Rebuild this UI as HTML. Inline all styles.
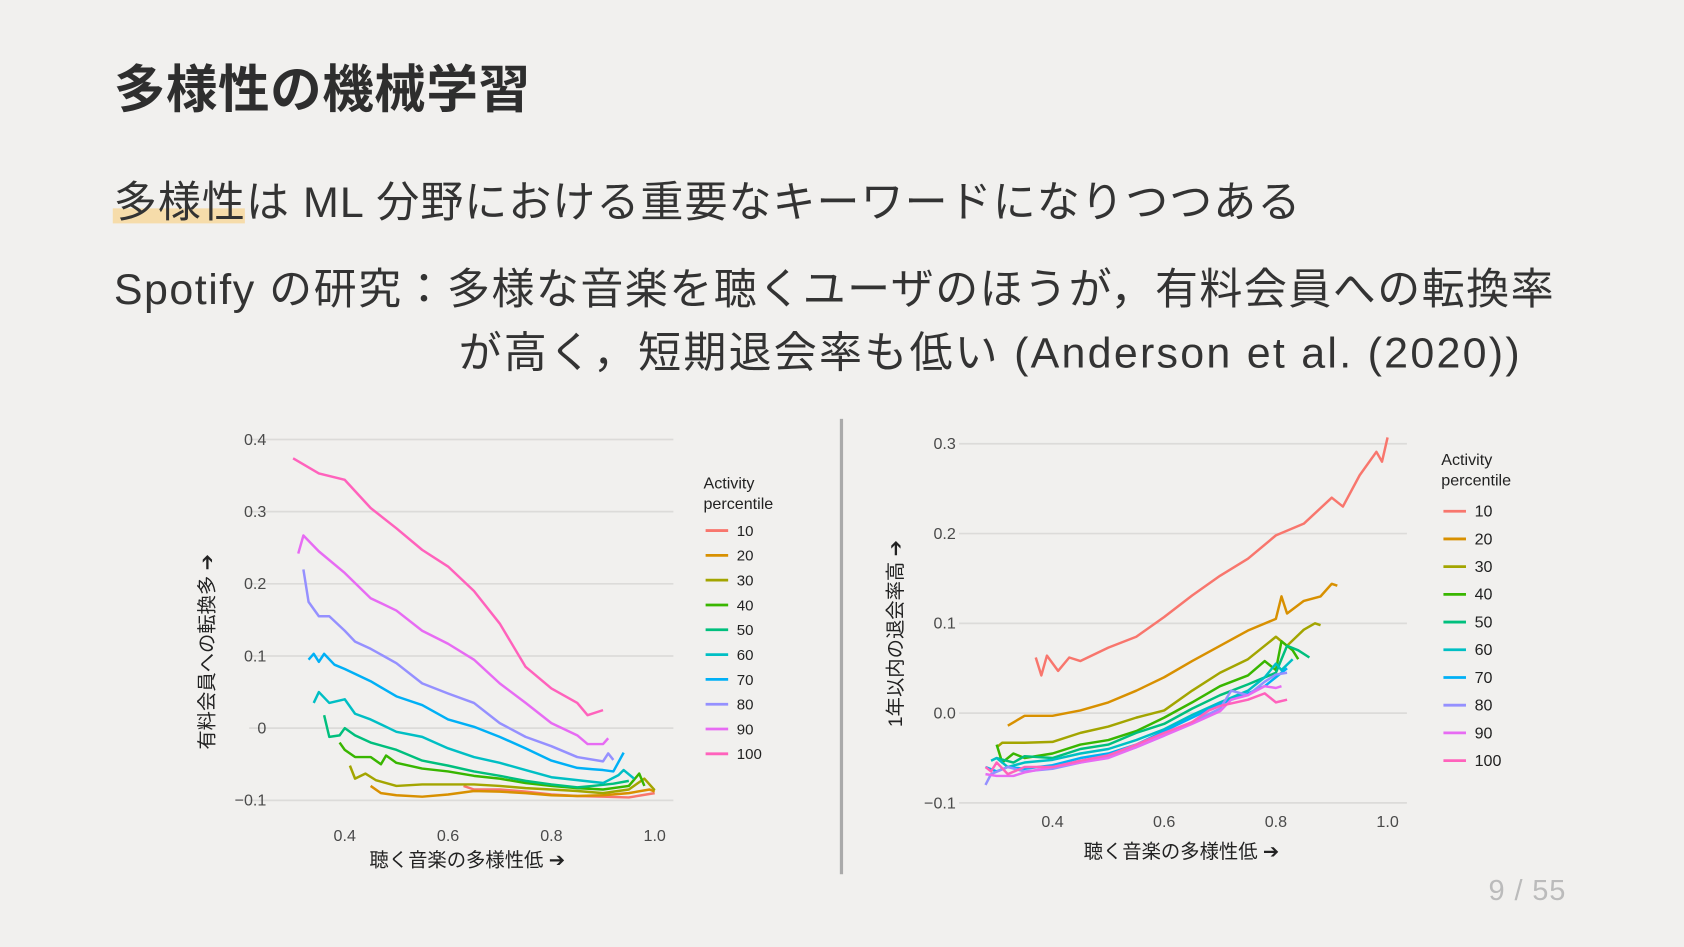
<!DOCTYPE html>
<html><head><meta charset="utf-8">
<style>
html,body{margin:0;padding:0;background:#f1f0ee;overflow:hidden}
#wrap{position:absolute;left:0;top:0;width:1568px;height:882px;transform:scale(1.07398);transform-origin:0 0;font-family:"Liberation Sans","Noto Sans CJK JP",sans-serif;color:#333}
.t{position:absolute;white-space:nowrap}
svg text{font-family:"Liberation Sans","Noto Sans CJK JP",sans-serif}
</style></head><body>
<div id="wrap">
<div class="t" style="left:106px;top:44px;font-size:48px;font-weight:bold;letter-spacing:0.5px;color:#2e2e2e">多様性の機械学習</div>
<div style="position:absolute;left:105px;top:194px;width:123px;height:14px;background:#f6dcaa"></div>
<div class="t" style="left:106px;top:156px;font-size:40px;letter-spacing:1px">多様性は ML 分野における重要なキーワードになりつつある</div>
<div class="t" style="left:106px;top:237px;font-size:40px;letter-spacing:1.4px">Spotify の研究：多様な音楽を聴くユーザのほうが，有料会員への転換率</div>
<div class="t" style="left:427px;top:296px;font-size:40px;letter-spacing:2.1px">が高く，短期退会率も低い (Anderson et al. (2020))</div>
<div style="position:absolute;left:782px;top:390px;width:3px;height:424px;background:#aaa"></div>
<div class="t" style="left:1386px;top:814px;font-size:27px;letter-spacing:0.8px;color:#bbb">9 / 55</div>
<svg id="c1" style="position:absolute;left:0;top:0" width="1568" height="882"></svg>
</div>
<script>
const colors=["#F8766D","#D89000","#A3A500","#39B600","#00BF7D","#00BFC4","#00B0F6","#9590FF","#E76BF3","#FF62BC"];
const legendLabels=["10","20","30","40","50","60","70","80","90","100"];
const leftYTicks=[0.4,0.3,0.2,0.1,0,-0.1];
const leftYTickLabels=["0.4","0.3","0.2","0.1","0","\u22120.1"];
const xTicks=[0.4,0.6,0.8,1.0];
const xTickLabels=["0.4","0.6","0.8","1.0"];
const rightYTicks=[0.3,0.2,0.1,0,-0.1];
const rightYTickLabels=["0.3","0.2","0.1","0.0","\u22120.1"];
// left chart: conversion
const L10x=[0.63,0.65,0.7,0.75,0.8,0.85,0.9,0.95,1.0];
const L10y=[-0.08,-0.085,-0.085,-0.088,-0.092,-0.094,-0.095,-0.096,-0.09];
const L20x=[0.45,0.47,0.5,0.55,0.6,0.65,0.7,0.75,0.8,0.85,0.9,0.95,0.99,1.0];
const L20y=[-0.08,-0.09,-0.093,-0.095,-0.092,-0.087,-0.088,-0.09,-0.093,-0.094,-0.093,-0.09,-0.085,-0.088];
const L30x=[0.41,0.42,0.44,0.46,0.5,0.55,0.6,0.65,0.7,0.75,0.8,0.85,0.9,0.95,0.98,1.0];
const L30y=[-0.052,-0.07,-0.063,-0.072,-0.08,-0.078,-0.078,-0.078,-0.08,-0.083,-0.085,-0.087,-0.09,-0.085,-0.07,-0.086];
const L40x=[0.39,0.4,0.42,0.45,0.47,0.48,0.5,0.55,0.6,0.65,0.7,0.75,0.8,0.85,0.9,0.95,0.97,0.98];
const L40y=[-0.02,-0.03,-0.04,-0.04,-0.05,-0.038,-0.048,-0.056,-0.06,-0.066,-0.07,-0.076,-0.08,-0.083,-0.085,-0.08,-0.063,-0.08];
const L50x=[0.36,0.37,0.39,0.4,0.42,0.45,0.5,0.55,0.6,0.65,0.7,0.75,0.8,0.85,0.88,0.92,0.95];
const L50y=[0.018,-0.012,-0.01,0.0,-0.01,-0.02,-0.03,-0.045,-0.052,-0.06,-0.066,-0.073,-0.078,-0.082,-0.08,-0.077,-0.073];
const L60x=[0.34,0.35,0.37,0.4,0.42,0.45,0.5,0.55,0.6,0.65,0.7,0.75,0.8,0.85,0.9,0.93,0.94,0.96];
const L60y=[0.035,0.05,0.035,0.04,0.02,0.012,-0.005,-0.012,-0.028,-0.04,-0.048,-0.058,-0.068,-0.072,-0.076,-0.065,-0.058,-0.07];
const L70x=[0.33,0.34,0.35,0.36,0.38,0.4,0.45,0.5,0.55,0.6,0.65,0.7,0.75,0.8,0.85,0.88,0.9,0.92,0.94];
const L70y=[0.095,0.103,0.092,0.103,0.088,0.082,0.065,0.044,0.032,0.012,0.002,-0.012,-0.028,-0.045,-0.055,-0.057,-0.058,-0.06,-0.034];
const L80x=[0.32,0.33,0.35,0.37,0.4,0.42,0.45,0.5,0.55,0.6,0.65,0.7,0.75,0.8,0.85,0.9,0.91,0.92];
const L80y=[0.22,0.175,0.155,0.155,0.135,0.12,0.11,0.09,0.062,0.048,0.035,0.007,-0.012,-0.025,-0.04,-0.046,-0.035,-0.044];
const L90x=[0.31,0.32,0.35,0.4,0.45,0.5,0.55,0.6,0.65,0.7,0.75,0.8,0.85,0.87,0.9,0.91];
const L90y=[0.242,0.267,0.245,0.215,0.18,0.163,0.135,0.117,0.095,0.062,0.035,0.007,-0.01,-0.022,-0.022,-0.014];
const L100x=[0.3,0.35,0.4,0.45,0.5,0.55,0.6,0.65,0.7,0.75,0.8,0.85,0.87,0.9];
const L100y=[0.374,0.353,0.344,0.305,0.277,0.247,0.224,0.19,0.145,0.085,0.055,0.035,0.018,0.025];
// right chart: churn
const R10x=[0.37,0.38,0.39,0.41,0.43,0.45,0.5,0.55,0.6,0.65,0.7,0.75,0.8,0.85,0.9,0.92,0.95,0.98,0.99,1.0];
const R10y=[0.062,0.042,0.064,0.047,0.062,0.058,0.073,0.085,0.107,0.131,0.153,0.172,0.198,0.211,0.24,0.23,0.265,0.291,0.28,0.307];
const R20x=[0.32,0.35,0.4,0.45,0.5,0.55,0.6,0.65,0.7,0.75,0.8,0.81,0.82,0.85,0.88,0.9,0.91];
const R20y=[-0.014,-0.003,-0.003,0.003,0.012,0.025,0.04,0.058,0.075,0.092,0.105,0.13,0.111,0.125,0.13,0.144,0.142];
const R30x=[0.3,0.31,0.35,0.4,0.45,0.5,0.55,0.6,0.65,0.7,0.75,0.8,0.82,0.85,0.87,0.88];
const R30y=[-0.038,-0.033,-0.033,-0.032,-0.022,-0.015,-0.005,0.003,0.025,0.045,0.06,0.085,0.075,0.093,0.1,0.098];
const R40x=[0.3,0.31,0.33,0.35,0.4,0.45,0.5,0.55,0.6,0.65,0.7,0.75,0.78,0.8,0.81,0.83,0.84];
const R40y=[-0.035,-0.055,-0.045,-0.05,-0.045,-0.035,-0.03,-0.02,-0.005,0.012,0.03,0.042,0.058,0.048,0.08,0.07,0.06];
const R50x=[0.3,0.33,0.35,0.4,0.45,0.5,0.55,0.6,0.65,0.7,0.75,0.8,0.82,0.84,0.86];
const R50y=[-0.05,-0.055,-0.048,-0.05,-0.04,-0.035,-0.022,-0.012,0.005,0.02,0.032,0.045,0.075,0.07,0.062];
const R60x=[0.29,0.3,0.32,0.35,0.4,0.45,0.5,0.55,0.6,0.65,0.7,0.75,0.78,0.8,0.81,0.83];
const R60y=[-0.053,-0.05,-0.06,-0.055,-0.052,-0.045,-0.04,-0.03,-0.018,-0.002,0.012,0.025,0.04,0.055,0.048,0.06];
const R70x=[0.28,0.3,0.32,0.35,0.4,0.45,0.5,0.55,0.6,0.65,0.7,0.75,0.78,0.8,0.82];
const R70y=[-0.06,-0.065,-0.06,-0.062,-0.058,-0.05,-0.045,-0.035,-0.02,-0.005,0.01,0.022,0.03,0.04,0.05];
const R80x=[0.28,0.29,0.32,0.35,0.4,0.45,0.5,0.55,0.6,0.65,0.7,0.72,0.75,0.78,0.8,0.82];
const R80y=[-0.08,-0.068,-0.06,-0.065,-0.062,-0.055,-0.048,-0.038,-0.025,-0.01,0.005,0.025,0.02,0.035,0.043,0.045];
const R90x=[0.28,0.3,0.33,0.35,0.4,0.45,0.5,0.55,0.6,0.65,0.7,0.72,0.75,0.78,0.8,0.81];
const R90y=[-0.068,-0.07,-0.07,-0.066,-0.06,-0.055,-0.05,-0.038,-0.025,-0.012,0.002,0.015,0.02,0.03,0.028,0.03];
const R100x=[0.28,0.29,0.3,0.32,0.35,0.4,0.45,0.5,0.55,0.6,0.65,0.68,0.7,0.75,0.78,0.8,0.82];
const R100y=[-0.06,-0.065,-0.055,-0.068,-0.06,-0.06,-0.053,-0.047,-0.035,-0.022,-0.01,0.003,0.008,0.015,0.022,0.012,0.015];

const leftSeries=[[L10x,L10y],[L20x,L20y],[L30x,L30y],[L40x,L40y],[L50x,L50y],[L60x,L60y],[L70x,L70y],[L80x,L80y],[L90x,L90y],[L100x,L100y]];
const rightSeries=[[R10x,R10y],[R20x,R20y],[R30x,R30y],[R40x,R40y],[R50x,R50y],[R60x,R60y],[R70x,R70y],[R80x,R80y],[R90x,R90y],[R100x,R100y]];

const NS="http://www.w3.org/2000/svg";
const svg=document.getElementById('c1');
function mk(tag,attrs,parent){const e=document.createElementNS(NS,tag);for(const k in attrs)e.setAttribute(k,attrs[k]);(parent||svg).appendChild(e);return e;}

function drawChart(cfg){
  const g=mk('g',{});
  
  
  const X=v=>cfg.x0+(v-0.4)*cfg.xs;
  const Y=v=>cfg.y0-(v-cfg.yref)*cfg.ys;
  cfg.yTicks.forEach((t,i)=>{
    const gl=mk('line',{x1:cfg.px1,x2:cfg.px2,y1:Y(t),y2:Y(t),stroke:'#dcdbd9','stroke-width':1.6},g);
    
    
    const tl=mk('text',{x:cfg.ylx,y:Y(t)+5,'text-anchor':'end','font-size':15,fill:'#4a4a4a'},g);
    tl.textContent=cfg.yLabels[i];
    
    
  });
  xTicks.forEach((t,i)=>{
    const tl=mk('text',{x:X(t),y:cfg.xly,'text-anchor':'middle','font-size':15,fill:'#4a4a4a'},g);
    tl.textContent=xTickLabels[i];
    
    
  });
  cfg.series.forEach((s,i)=>{
    const d=s[0].map((x,j)=>(j?'L':'M')+X(x).toFixed(1)+','+Y(s[1][j]).toFixed(1)).join('');
    const p=mk('path',{d:d,fill:'none',stroke:colors[i],'stroke-width':2.3,'stroke-linejoin':'round'},g);
    
    
  });
  const xt=mk('text',{x:cfg.xtx,y:cfg.xty,'text-anchor':'middle','font-size':18,fill:'#222'},g);
  xt.textContent='聴く音楽の多様性低 ➔';
  
  
  const yt=mk('text',{x:0,y:0,'text-anchor':'middle','font-size':18,fill:'#222',transform:'translate('+cfg.ytx+','+cfg.yty+') rotate(-90)'},g);
  yt.textContent=cfg.ytitle;
  
  
  const lt=mk('text',{x:cfg.lgx,y:cfg.lgy,'font-size':15,fill:'#222'},g);
  lt.textContent='Activity';
  
  
  const lt2=mk('text',{x:cfg.lgx,y:cfg.lgy+19,'font-size':15,fill:'#222'},g);
  lt2.textContent='percentile';
  
  
  legendLabels.forEach((lab,i)=>{
    const yy=cfg.le0+i*cfg.lsp;
    const ln=mk('line',{x1:cfg.lgx+2,x2:cfg.lgx+23,y1:yy,y2:yy,stroke:colors[i],'stroke-width':2.6},g);
    
    
    const tx=mk('text',{x:cfg.lgx+31,y:yy+5,'font-size':cfg.lfs,fill:'#222'},g);
    tx.textContent=lab;
    
    
  });
}
drawChart({name:'conversion-chart',series:leftSeries,x0:321,xs:481,yref:0,y0:678,ys:672,px1:232,px2:627,yTicks:leftYTicks,yLabels:leftYTickLabels,ylx:248,xly:783,xtx:435,xty:807,ytx:199,yty:607,ytitle:'有料会員への転換多 ➔',lgx:655,lgy:455,le0:494,lsp:23.1,lfs:14});
drawChart({name:'churn-chart',series:rightSeries,x0:980,xs:520,yref:0,y0:664,ys:836,px1:893,px2:1310,yTicks:rightYTicks,yLabels:rightYTickLabels,ylx:890,xly:770,xtx:1100,xty:799,ytx:840,yty:590,ytitle:'1年以内の退会率高 ➔',lgx:1342,lgy:433,le0:476,lsp:25.8,lfs:15});
</script>
</body></html>
